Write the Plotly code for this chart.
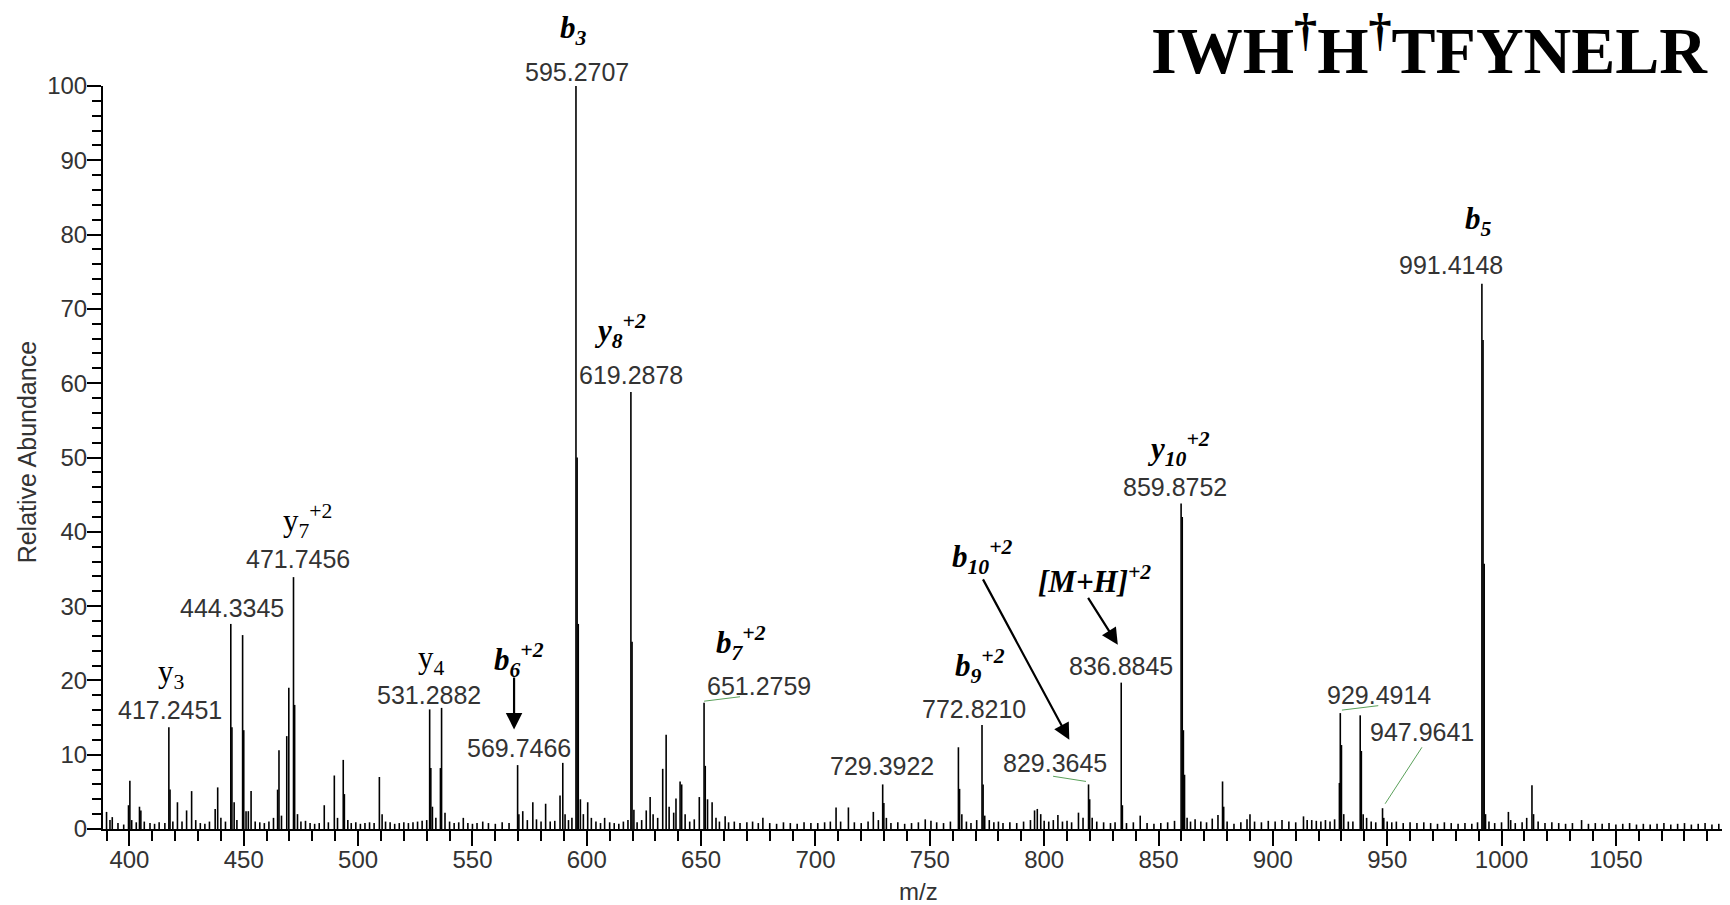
import plotly.graph_objects as go

# ---------------- data ----------------
mz = [390.0, 391.5, 392.5, 395.0, 397.5, 399.6, 400.2, 401.0, 403.0, 404.4, 405.0, 406.5, 409.0, 411.0,
      413.0, 415.5, 417.25, 417.75, 419.0, 421.0, 423.0, 425.0, 427.2, 429.0, 431.0, 433.0, 435.0, 437.5,
      438.6, 440.0, 442.0, 444.33, 444.83, 445.8, 447.0, 449.5, 450.0, 451.0, 452.0, 453.2, 455.0, 457.0,
      459.0, 461.0, 463.0, 464.8, 465.4, 466.5, 468.8, 469.7, 471.75, 472.25, 473.5, 475.0, 477.0, 479.0,
      481.0, 483.0, 485.2, 487.0, 489.6, 491.0, 493.5, 494.0, 495.5, 497.0, 499.0, 501.0, 503.0, 505.0,
      507.0, 509.3, 510.5, 512.0, 514.0, 516.0, 518.0, 520.0, 522.0, 524.0, 526.0, 528.0, 530.0, 531.29,
      531.8, 532.5, 534.0, 536.0, 536.5, 538.0, 540.0, 542.0, 544.0, 546.0, 548.0, 550.0, 552.0, 554.5,
      557.0, 560.0, 563.0, 566.0, 569.75, 570.3, 572.0, 574.0, 576.4, 578.0, 580.0, 582.0, 584.0, 586.0,
      588.3, 589.5, 590.5, 592.0, 593.5, 595.27, 595.77, 596.27, 597.2, 598.5, 600.4, 602.0, 604.0, 606.0,
      607.8, 610.0, 612.0, 614.0, 616.0, 618.0, 619.29, 619.79, 620.6, 622.0, 624.0, 626.0, 627.7, 629.0,
      631.0, 633.2, 634.7, 636.0, 638.0, 639.0, 640.8, 641.5, 643.0, 645.0, 647.0, 649.2, 651.28, 651.8,
      652.8, 654.8, 656.5, 658.0, 660.5, 662.0, 664.5, 667.0, 670.0, 672.5, 675.0, 677.0, 680.0, 683.0,
      686.0, 689.0, 692.0, 695.0, 698.0, 701.0, 704.0, 706.5, 709.0, 711.0, 714.4, 717.0, 720.0, 723.0,
      725.3, 727.5, 729.39, 729.9, 731.0, 733.0, 736.0, 739.0, 742.0, 745.0, 748.0, 750.5, 753.0, 756.0,
      759.0, 762.5, 763.0, 764.0, 766.0, 768.0, 770.5, 772.82, 773.3, 774.0, 776.0, 778.0, 780.0, 782.0,
      785.0, 788.0, 791.0, 794.0, 795.8, 797.0, 798.5, 800.0, 802.0, 804.0, 806.0, 808.0, 810.0, 812.0,
      815.0, 817.0, 819.4, 819.9, 821.0, 823.0, 826.0, 829.0, 831.0, 833.7, 834.2, 836.0, 839.0, 842.0,
      845.0, 848.0, 851.0, 854.0, 857.0, 859.88, 860.38, 860.88, 861.38, 862.5, 864.0, 866.0, 868.5, 871.0,
      873.5, 876.0, 878.0, 878.5, 880.0, 883.0, 886.0, 888.7, 890.0, 892.0, 895.0, 898.0, 901.0, 904.0,
      907.0, 910.0, 913.4, 915.0, 917.0, 919.0, 921.0, 923.0, 925.0, 927.0, 929.1, 929.49, 930.0, 931.0,
      933.0, 935.0, 938.2, 938.7, 939.5, 941.0, 943.0, 945.0, 947.96, 948.5, 950.0, 952.0, 954.0, 957.0,
      960.0, 963.0, 966.0, 969.0, 972.0, 975.0, 978.0, 981.0, 984.0, 987.0, 989.5, 991.41, 991.91, 992.41,
      993.0, 994.5, 997.0, 1000.0, 1003.0, 1004.0, 1006.0, 1009.0, 1011.0, 1013.3, 1014.0, 1016.0, 1019.0,
      1022.0, 1025.0, 1028.0, 1031.0, 1035.0, 1038.0, 1041.0, 1044.0, 1047.0, 1050.0, 1053.0, 1056.0,
      1059.0, 1062.0, 1065.0, 1068.0, 1071.0, 1074.0, 1077.0, 1080.0, 1083.0, 1086.0, 1089.0, 1092.0,
      1095.0, 1098.0]
intensity = [2.3, 1.2, 1.6, 0.8, 0.6, 3.2, 6.5, 1.2, 0.9, 3.0, 2.5, 1.0, 0.8, 0.7,
             0.9, 0.8, 13.7, 5.3, 1.0, 3.6, 1.0, 2.5, 5.1, 1.2, 0.8, 0.7, 1.0, 2.7,
             5.6, 1.5, 1.0, 27.6, 13.7, 3.6, 1.2, 26.1, 13.3, 2.4, 2.4, 5.1, 1.0, 0.9,
             0.8, 1.0, 1.5, 5.3, 10.6, 1.8, 12.5, 19.0, 33.9, 16.7, 2.0, 1.0, 1.1, 0.8,
             0.7, 0.8, 3.2, 0.9, 7.2, 1.5, 9.3, 4.7, 1.2, 0.8, 0.9, 0.7, 0.8, 0.9,
             0.8, 7.0, 2.0, 1.0, 0.9, 0.7, 0.8, 0.9, 0.8, 0.9, 1.0, 1.1, 1.2, 16.1,
             8.2, 3.0, 1.5, 8.2, 16.3, 2.2, 1.0, 0.8, 0.9, 1.5, 0.8, 0.7, 0.8, 1.0,
             0.8, 0.7, 0.9, 0.8, 8.6, 2.0, 2.4, 1.2, 3.6, 1.3, 1.0, 3.4, 1.0, 1.1,
             4.5, 8.9, 2.0, 1.2, 1.5, 100.0, 50.0, 27.6, 4.0, 2.0, 3.6, 1.5, 1.0, 0.8,
             1.5, 0.9, 0.8, 0.7, 1.0, 1.2, 58.8, 25.2, 2.6, 0.9, 1.2, 2.5, 4.3, 2.0,
             1.5, 8.1, 12.7, 3.0, 2.2, 4.1, 6.4, 6.0, 2.0, 1.0, 1.3, 4.3, 17.0, 8.5,
             4.0, 3.6, 1.5, 1.0, 1.7, 0.9, 1.0, 0.8, 0.9, 1.0, 0.8, 1.5, 0.8, 0.7,
             0.9, 0.8, 0.7, 0.9, 0.8, 0.8, 0.9, 1.0, 2.9, 1.0, 2.9, 0.9, 0.8, 1.0,
             2.3, 1.2, 6.0, 3.5, 1.5, 0.8, 0.9, 0.7, 0.8, 0.9, 1.3, 1.1, 0.9, 0.8,
             1.0, 11.0, 5.4, 2.0, 1.0, 0.8, 1.2, 14.0, 6.0, 1.8, 1.2, 0.9, 1.0, 0.8,
             0.9, 0.8, 1.0, 1.2, 2.5, 2.7, 2.0, 1.1, 1.0, 1.2, 1.9, 1.0, 1.1, 0.9,
             2.2, 1.5, 6.0, 4.0, 1.5, 1.0, 0.9, 0.8, 0.9, 19.7, 3.2, 0.8, 0.9, 1.8,
             0.8, 0.7, 0.8, 0.9, 1.1, 43.8, 42.0, 13.3, 7.3, 1.5, 1.0, 1.3, 1.0, 0.9,
             1.4, 1.9, 6.4, 3.0, 1.0, 0.7, 0.9, 1.3, 2.0, 1.0, 0.9, 1.1, 1.0, 1.2,
             1.0, 0.9, 1.7, 1.2, 1.2, 1.1, 1.0, 1.2, 1.0, 1.3, 6.2, 15.6, 11.3, 2.0,
             1.0, 1.0, 15.3, 10.5, 2.0, 1.5, 1.0, 0.9, 2.8, 1.5, 1.0, 0.9, 1.0, 0.8,
             0.9, 0.8, 0.9, 0.8, 0.7, 0.9, 0.8, 0.7, 0.8, 0.7, 0.9, 73.4, 65.8, 35.7,
             2.0, 1.0, 0.8, 0.9, 2.3, 1.2, 0.8, 0.9, 1.5, 5.9, 2.0, 1.0, 0.8,
             0.9, 0.8, 0.7, 0.8, 1.2, 0.7, 0.8, 0.7, 0.8, 0.6, 0.7, 0.8,
             0.6, 0.7, 0.6, 0.7, 0.8, 0.6, 0.7, 0.8, 0.6, 0.7, 0.8, 0.6,
             0.7, 0.6]

x_ticks = [400, 450, 500, 550, 600, 650, 700, 750, 800, 850, 900, 950, 1000, 1050]
y_ticks = [0, 10, 20, 30, 40, 50, 60, 70, 80, 90, 100]

peak_labels = ["595.2707", "619.2878", "991.4148", "859.8752", "836.8845", "772.8210", "829.3645",
               "729.3922", "651.2759", "569.7466", "531.2882", "471.7456", "444.3345", "417.2451",
               "929.4914", "947.9641"]
ion_labels = ["<b><i>b<sub>3</sub></i></b>", "<b><i>y<sub>8</sub><sup>+2</sup></i></b>",
              "<b><i>b<sub>5</sub></i></b>", "<b><i>y<sub>10</sub><sup>+2</sup></i></b>",
              "<b><i>b<sub>9</sub><sup>+2</sup></i></b>", "<b><i>b<sub>7</sub><sup>+2</sup></i></b>",
              "y<sub>4</sub>", "y<sub>7</sub><sup>+2</sup>", "y<sub>3</sub>"]
arrow_labels = ["<b><i>b<sub>10</sub><sup>+2</sup></i></b>", "<b><i>[M+H]<sup>+2</sup></i></b>",
                "<b><i>b<sub>6</sub><sup>+2</sup></i></b>"]
title_text = "<b>IWH<sup>†</sup>H<sup>†</sup>TFYNELR</b>"

# ---------------- layout helpers (positions in m/z, % abundance) ----------------
num_pos = [(595.7, 101.9), (619.4, 61.1), (978.0, 75.9), (857.3, 46.0), (833.6, 22.0), (769.4, 16.1),
           (804.8, 8.9), (729.2, 8.5), (675.4, 19.3), (570.4, 10.9), (531.0, 18.0), (473.7, 36.4),
           (444.9, 29.7), (417.7, 16.0), (946.4, 18.0), (965.3, 13.1)]
ion_pos = [(594.4, 107.6), (614.5, 67.0), (989.8, 81.8), (858.6, 51.1), (772.0, 22.0), (667.5, 25.0),
           (532.3, 22.8), (477.7, 41.4), (418.2, 20.8)]
arrow_text_pos = [(772.9, 36.6), (821.8, 33.6), (570.4, 22.8)]
arrow_geom = [((772.9, 33.8), (811.0, 12.0)), ((818.8, 31.3), (832.2, 24.8)), ((568.2, 20.6), (568.2, 13.4))]
green_lines = [((651.3, 17.2), (667.0, 17.8)), ((803.9, 7.1), (818.3, 6.4)),
               ((930.2, 16.0), (946.1, 16.6)), ((965.2, 11.0), (949.1, 3.4))]

# build stick spectrum
xs, ys = [], []
for m, v in zip(mz, intensity):
    xs += [m, m, None]
    ys += [0, v, None]

fig = go.Figure()
fig.add_trace(go.Scatter(x=xs, y=ys, mode="lines", line=dict(color="black", width=1.6),
                         hoverinfo="skip", showlegend=False))

Y_MAX = 100.0
ann = []
num_font = dict(family="Liberation Sans, Arial", size=25, color="#333333")
ion_font = dict(family="Liberation Serif, Times New Roman", size=31, color="black")
for t, (x, y) in zip(peak_labels, num_pos):
    ann.append(dict(x=x, y=y / Y_MAX, xref="x", yref="paper", text=t, showarrow=False, font=num_font,
                    xanchor="center", yanchor="middle"))
for t, (x, y) in zip(ion_labels, ion_pos):
    ann.append(dict(x=x, y=y / Y_MAX, xref="x", yref="paper", text=t, showarrow=False, font=ion_font,
                    xanchor="center", yanchor="middle"))
for t, (x, y) in zip(arrow_labels, arrow_text_pos):
    ann.append(dict(x=x, y=y / Y_MAX, xref="x", yref="paper", text=t, showarrow=False, font=ion_font,
                    xanchor="center", yanchor="middle"))
for (x0, y0), (x1, y1) in arrow_geom:
    ann.append(dict(x=x1, y=y1, ax=x0, ay=y0, xref="x", yref="y", axref="x", ayref="y", text="",
                    showarrow=True, arrowhead=2, arrowsize=1.5, arrowwidth=2.2, arrowcolor="black"))

# figure is placed 8 px in from the page corner, so it is 8 px smaller
W, H = 1722, 897
plot_l, plot_r, plot_t, plot_b = 95.3, W, 78.1, 820.8
pw, ph = plot_r - plot_l, plot_b - plot_t
ann.append(dict(x=(1702 - plot_l) / pw, y=(plot_b - 38) / ph, xref="paper", yref="paper",
                text=title_text, showarrow=False, xanchor="right", yanchor="middle",
                font=dict(family="Liberation Serif, Times New Roman", size=66, color="black")))
ann.append(dict(x=(19.6 - plot_l) / pw, y=(plot_b - 444) / ph, xref="paper", yref="paper",
                text="Relative Abundance", textangle=-90, showarrow=False, xanchor="center",
                yanchor="middle", font=dict(family="Liberation Sans, Arial", size=25, color="#333333")))
ann.append(dict(x=(911 - plot_l) / pw, y=(plot_b - 883) / ph, xref="paper", yref="paper", text="m/z",
                showarrow=False, xanchor="center", yanchor="middle",
                font=dict(family="Liberation Sans, Arial", size=24, color="#333333")))

shapes = [dict(type="line", xref="x", yref="y", x0=a[0], y0=a[1], x1=b[0], y1=b[1],
               line=dict(color="#5aa05a", width=1)) for a, b in green_lines]

tick_font = dict(family="Liberation Sans, Arial", size=24, color="#333333")
fig.update_layout(
    width=W, height=H,
    margin=dict(l=plot_l, r=0, t=plot_t, b=H - plot_b, autoexpand=False),
    paper_bgcolor="white", plot_bgcolor="white",
    annotations=ann, shapes=shapes,
    xaxis=dict(range=[388.45, 1099.9], tickvals=x_ticks, ticks="outside", ticklen=15, tickwidth=1.5,
               tickcolor="black", showline=True, linecolor="black", linewidth=2, showgrid=False,
               zeroline=False, tickfont=tick_font, ticklabelstandoff=-7,
               minor=dict(dtick=10, tick0=0, ticks="outside", ticklen=10, tickwidth=1.5, tickcolor="black",
                          showgrid=False)),
    yaxis=dict(range=[0, Y_MAX], tickvals=y_ticks, ticks="outside", ticklen=14, tickwidth=1.5,
               tickcolor="black", showline=True, linecolor="black", linewidth=2, showgrid=False,
               zeroline=False, tickfont=tick_font, ticklabelstandoff=-5,
               minor=dict(dtick=2, tick0=0, ticks="outside", ticklen=9, tickwidth=1.5, tickcolor="black",
                          showgrid=False)),
)

fig.write_html("out.html")
